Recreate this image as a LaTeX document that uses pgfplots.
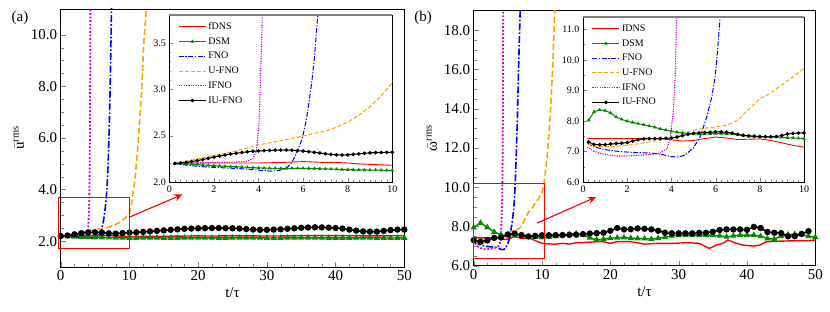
\documentclass[border=0pt]{standalone}
\usepackage{pgfplots}
\pgfplotsset{compat=1.18}
\usepackage{pgfplotstable}
\usepackage{amsmath}
\usepackage{fontspec}
\setmainfont{Liberation Serif}
\usetikzlibrary{arrows.meta}
\definecolor{cgreen}{RGB}{0,140,0}
\definecolor{corange}{RGB}{255,165,0}
\definecolor{cmag}{RGB}{200,0,200}

% ---------------- panel (a) data ----------------
\pgfplotstableread{
t v
0.2 2.200
1 2.205
2 2.205
3 2.205
4 2.205
5 2.210
5.5 2.215
6 2.220
6.5 2.215
7 2.210
7.5 2.210
8 2.205
8.5 2.195
9 2.190
9.5 2.185
10 2.180
12 2.185
15 2.190
18 2.200
20 2.205
22 2.200
25 2.210
28 2.205
30 2.200
33 2.205
36 2.215
38 2.220
40 2.215
43 2.210
46 2.205
48 2.210
50 2.215
}\fdnsA
\pgfplotstableread{
t v
0.25 2.200
0.5 2.198
0.75 2.195
1.0 2.192
1.25 2.188
1.5 2.184
1.75 2.180
2.0 2.176
2.25 2.173
2.5 2.170
2.75 2.167
3.0 2.164
3.25 2.161
3.5 2.158
3.75 2.155
4.0 2.152
4.25 2.150
4.5 2.148
4.75 2.147
5.0 2.146
5.25 2.146
5.5 2.147
5.75 2.147
6.0 2.147
6.25 2.146
6.5 2.145
6.75 2.143
7.0 2.141
7.25 2.139
7.5 2.137
7.75 2.135
8.0 2.133
8.25 2.132
8.5 2.131
8.75 2.130
9.0 2.129
9.25 2.128
9.5 2.127
9.75 2.126
10.0 2.125
}\dsmAin
\pgfplotstableread{
t v
0 2.200
1 2.192
2 2.176
3 2.164
4 2.152
5 2.146
6 2.147
7 2.141
8 2.133
9 2.129
10 2.125
11 2.126
12 2.128
13 2.129
14 2.128
15 2.126
16 2.125
17 2.126
18 2.128
19 2.130
20 2.131
21 2.130
22 2.128
23 2.127
24 2.127
25 2.128
26 2.130
27 2.131
28 2.130
29 2.128
30 2.126
31 2.125
32 2.126
33 2.128
34 2.130
35 2.131
36 2.132
37 2.131
38 2.129
39 2.127
40 2.126
41 2.126
42 2.127
43 2.129
44 2.130
45 2.129
46 2.127
47 2.125
48 2.125
49 2.126
50 2.127
}\dsmAmain
\pgfplotstableread{
t v
0.2 2.200
0.5 2.190
1 2.175
1.5 2.165
2 2.158
2.5 2.152
3 2.146
3.5 2.138
4 2.128
4.5 2.118
4.8 2.120
5.1 2.135
5.3 2.160
5.5 2.210
5.7 2.310
5.9 2.430
6.0 2.510
6.1 2.620
6.2 2.750
6.3 2.920
6.4 3.100
6.5 3.320
6.6 3.620
6.7 3.950
6.8 4.400
6.9 5.000
7.0 5.800
7.1 6.800
7.2 8.000
7.3 9.500
7.4 11.20
7.5 13.00
}\fnoA
\pgfplotstableread{
t v
0.2 2.200
1 2.235
2 2.285
3 2.335
4 2.400
5 2.445
6 2.495
7 2.550
7.5 2.590
8 2.645
8.5 2.720
9 2.810
9.5 2.930
10 3.070
10.3 3.450
10.8 4.350
11.3 5.900
11.8 7.960
12.1 9.770
12.5 11.06
12.7 12.00
}\ufnoA
\pgfplotstableread{
t v
0.2 2.200
1 2.205
2 2.210
3 2.215
3.5 2.225
3.75 2.250
3.9 2.330
4.0 2.550
4.05 2.800
4.1 3.200
4.15 3.600
4.2 4.200
4.25 6.000
4.3 9.000
4.33 12.00
}\ifnoA
\pgfplotstableread{
t v
0.25 2.200
0.5 2.205
0.75 2.212
1.0 2.220
1.25 2.230
1.5 2.242
1.75 2.255
2.0 2.268
2.25 2.280
2.5 2.291
2.75 2.301
3.0 2.310
3.25 2.318
3.5 2.325
3.75 2.331
4.0 2.335
4.25 2.338
4.5 2.341
4.75 2.343
5.0 2.344
5.25 2.344
5.5 2.342
5.75 2.338
6.0 2.333
6.25 2.327
6.5 2.320
6.75 2.312
7.0 2.304
7.25 2.297
7.5 2.292
7.75 2.290
8.0 2.292
8.25 2.297
8.5 2.303
8.75 2.309
9.0 2.314
9.25 2.317
9.5 2.319
9.75 2.320
10.0 2.321
}\iuAin
\pgfplotstableread{
t v
0 2.200
1 2.220
2 2.268
3 2.310
4 2.335
5 2.344
6 2.333
7 2.304
8 2.292
9 2.314
10 2.330
11 2.340
12 2.360
13 2.380
14 2.400
15 2.420
16 2.440
17 2.460
18 2.480
19 2.490
20 2.500
21 2.505
22 2.510
23 2.510
24 2.505
25 2.500
26 2.490
27 2.470
28 2.450
29 2.440
30 2.440
31 2.450
32 2.460
33 2.480
34 2.500
35 2.520
36 2.530
37 2.540
38 2.535
39 2.525
40 2.510
41 2.490
42 2.450
43 2.410
44 2.380
45 2.370
46 2.370
47 2.400
48 2.430
49 2.450
50 2.450
}\iuAmain

% ---------------- panel (b) data ----------------
\pgfplotstableread{
t v
0.2 7.42
1 7.42
2 7.42
3 7.42
3.5 7.41
4 7.38
4.5 7.34
5 7.36
5.5 7.42
6 7.47
6.5 7.44
7 7.39
7.5 7.40
8 7.41
8.5 7.36
9 7.28
9.5 7.20
10 7.14
11 7.11
12 7.10
13 7.14
14 7.10
15 7.17
16 7.18
17 7.20
18 7.22
19 7.22
20 7.14
21 7.22
22 7.23
23 7.22
24 7.17
25 7.10
26 7.12
27 7.14
28 7.14
29 7.14
30 7.15
31 7.17
32 7.16
33 7.14
34 6.97
34.5 6.88
35.5 7.05
36.5 7.14
37.2 7.31
38.2 7.17
39.4 7.05
40.9 7.00
41.9 7.05
42.8 7.22
44.8 7.25
46.8 7.27
48.7 7.27
50 7.31
}\fdnsB
\pgfplotstableread{
t v
0.25 8.02
0.5 8.30
0.75 8.36
1.0 8.34
1.25 8.26
1.5 8.13
1.75 8.05
2.0 7.99
2.25 7.95
2.5 7.91
2.75 7.87
3.0 7.83
3.25 7.79
3.5 7.74
3.75 7.70
4.0 7.66
4.25 7.63
4.5 7.61
4.75 7.59
5.0 7.58
5.25 7.57
5.5 7.57
5.75 7.58
6.0 7.59
6.25 7.59
6.5 7.58
6.75 7.57
7.0 7.55
7.25 7.52
7.5 7.50
7.75 7.49
8.0 7.48
8.25 7.48
8.5 7.47
8.75 7.47
9.0 7.46
9.25 7.45
9.5 7.44
9.75 7.43
10.0 7.42
}\dsmBin
\pgfplotstableread{
t v
0 7.95
1 8.18
2 7.95
3 7.72
4 7.58
5 7.56
6 7.57
7 7.53
8 7.48
9 7.46
10 7.44
11 7.46
12 7.50
13 7.55
14 7.60
15 7.64
16 7.58
17 7.42
18 7.32
19 7.35
20 7.40
21 7.42
22 7.44
23 7.40
24 7.39
25 7.38
26 7.35
27 7.40
28 7.45
29 7.52
30 7.55
31 7.56
32 7.56
33 7.56
34 7.56
35 7.55
36 7.52
37 7.47
38 7.52
39 7.56
40 7.56
41 7.56
42 7.50
43 7.38
44 7.36
45 7.50
46 7.58
47 7.61
48 7.60
49 7.50
50 7.45
}\dsmBmain
\pgfplotstableread{
t v
0.2 7.26
0.5 7.15
1 7.06
1.5 7.01
2 6.98
2.5 6.96
3 6.95
3.5 6.91
4 6.83
4.3 6.82
4.6 6.87
5.0 7.12
5.3 7.48
5.6 8.13
5.83 8.79
5.98 9.44
6.09 10.32
6.21 11.42
6.4 13.6
6.6 16.5
6.8 19.0
6.9 20.5
}\fnoB
\pgfplotstableread{
t v
0.2 7.26
0.5 7.17
1 7.15
1.5 7.17
2 7.20
2.5 7.25
3 7.31
3.5 7.38
4 7.45
4.5 7.58
5 7.70
5.5 7.76
6 7.80
6.5 7.86
7 8.02
7.5 8.38
8 8.72
8.5 8.92
9 9.18
9.5 9.44
10 9.72
10.3 10.2
10.7 11.4
11.2 13.6
11.56 16.1
11.85 18.85
12.0 20.5
}\ufnoB
\pgfplotstableread{
t v
0.2 7.15
0.5 7.00
1 6.90
1.5 6.85
2 6.85
2.5 6.87
3 6.90
3.5 6.95
3.8 7.09
3.94 7.42
4.02 7.90
4.09 8.35
4.17 9.45
4.24 11.42
4.28 14.0
4.32 20.0
}\ifnoB
\pgfplotstableread{
t v
0.25 7.31
0.5 7.23
0.75 7.22
1.0 7.22
1.25 7.24
1.5 7.26
1.75 7.27
2.0 7.29
2.25 7.34
2.5 7.39
2.75 7.41
3.0 7.42
3.25 7.42
3.5 7.42
3.75 7.43
4.0 7.44
4.25 7.47
4.5 7.52
4.75 7.56
5.0 7.59
5.25 7.61
5.5 7.62
5.75 7.63
6.0 7.64
6.25 7.64
6.5 7.63
6.75 7.60
7.0 7.56
7.25 7.53
7.5 7.51
7.75 7.50
8.0 7.49
8.25 7.48
8.5 7.48
8.75 7.49
9.0 7.52
9.25 7.57
9.5 7.59
9.75 7.60
10.0 7.61
}\iuBin
\pgfplotstableread{
t v
0 7.30
1 7.22
2 7.29
3 7.42
4 7.44
5 7.59
6 7.64
7 7.56
8 7.49
9 7.52
10 7.55
11 7.55
12 7.56
13 7.56
14 7.57
15 7.58
16 7.61
17 7.64
18 7.66
19 7.68
20 7.78
21 7.92
22 7.85
23 7.86
24 7.90
25 7.88
26 7.85
27 7.78
28 7.68
29 7.65
30 7.65
31 7.65
32 7.65
33 7.68
34 7.68
35 7.73
36 7.82
37 7.85
38 7.85
39 7.85
40 7.83
41 7.98
42 7.92
43 7.72
44 7.68
45 7.66
46 7.50
47 7.50
48 7.62
49 7.76
}\iuBmain

\pgfplotsset{
  mainax/.style={
    scale only axis, anchor=south west,
    xmin=0, xmax=50, xtick={0,10,...,50}, minor x tick num=4,
    tick align=inside, tick pos=left,
    axis line style={line width=0.8pt},
    major tick length=5pt, minor tick length=3pt,
    tick label style={font=\fontsize{15}{17}\selectfont},
    label style={font=\fontsize{15}{17}\selectfont},
    xticklabel={\pgfmathprintnumber[assume math mode=true]{\tick}},
    yticklabel={\pgfmathprintnumber[fixed,fixed zerofill,precision=1,assume math mode=true]{\tick}},
    xlabel={t/τ},
  },
  inax/.style={
    scale only axis, anchor=south west,
    xmin=0, xmax=10, xtick={0,2,...,10}, minor x tick num=7,
    tick align=inside, tick pos=left,
    axis background/.style={fill=white},
    major tick length=3.5pt, minor tick length=2pt,
    tick label style={font=\fontsize{10}{12}\selectfont},
    xticklabel={\pgfmathprintnumber[assume math mode=true]{\tick}},
    yticklabel={\pgfmathprintnumber[fixed,fixed zerofill,precision=1,assume math mode=true]{\tick}},
    legend style={at={(rel axis cs:0.035,0.975)}, anchor=north west, draw=none, fill=none,
      font=\fontsize{10}{12}\selectfont, row sep=2.6pt, inner sep=1pt},
    legend cell align=left,
    legend image code/.code={\draw[mark repeat=2,mark phase=2,##1] plot coordinates {(0pt,0pt) (13.5pt,0pt) (27pt,0pt)};},
  },
  fdnsM/.style={red, line width=1.4pt},
  dsmM/.style={cgreen, line width=1.4pt, mark=triangle*, mark size=2.3pt, mark options={solid}},
  fnoM/.style={blue, line width=1.6pt, dash pattern=on 7pt off 2pt on 1.6pt off 2pt},
  ufnoM/.style={corange, line width=1.6pt, dash pattern=on 6pt off 3pt},
  ifnoM/.style={cmag, line width=1.8pt, dash pattern=on 1.8pt off 1.8pt},
  iuM/.style={black, line width=1.5pt, mark=*, mark size=2.4pt, mark options={solid}},
  fdnsI/.style={red, line width=0.9pt},
  dsmI/.style={cgreen, line width=1.0pt, mark=triangle*, mark size=1.2pt, mark options={solid}},
  fnoI/.style={blue, line width=1.0pt, dash pattern=on 5pt off 1.6pt on 1.2pt off 1.6pt},
  ufnoI/.style={color=corange, line width=1.0pt, dash pattern=on 4pt off 2pt},
  ifnoI/.style={color=cmag, line width=1.1pt, dash pattern=on 1.2pt off 1.2pt},
  iuI/.style={black, line width=1.0pt, mark=*, mark size=1.3pt, mark options={solid}},
}

\begin{document}
\begin{tikzpicture}
\useasboundingbox (0pt,0pt) rectangle (830pt,312pt);

% ===== panel (a) main =====
\begin{axis}[mainax, at={(60.7pt,45pt)}, width=343.6pt, height=258pt,
  ymin=1, ymax=11, ytick={2,4,...,10}, minor y tick num=3,
  ylabel={$\bar{\text{u}}^{\text{rms}}$}]
\addplot[fdnsM] table[x=t,y=v] {\fdnsA};
\addplot[dsmM] table[x=t,y=v] {\dsmAmain};
\addplot[fnoM] table[x=t,y=v] {\fnoA};
\addplot[ufnoM] table[x=t,y=v] {\ufnoA};
\addplot[ifnoM] table[x=t,y=v] {\ifnoA};
\addplot[iuM] table[x=t,y=v] {\iuAmain};
\coordinate (ra1) at (axis cs:-0.35,1.73);
\coordinate (ra2) at (axis cs:10,3.70);
\coordinate (aa1) at (axis cs:10,2.93);
\coordinate (aa2) at (axis cs:17.7,3.81);
\end{axis}
\draw[red, line width=1.1pt] (ra1) rectangle (ra2);
\draw[red, line width=1.1pt, -{Stealth[length=8pt,width=7pt]}] (aa1) -- (aa2);

% ===== panel (a) inset =====
\begin{axis}[inax, at={(169.3pt,130pt)}, width=223pt, height=167pt,
  ymin=2, ymax=3.8, ytick={2.0,2.5,3.0,3.5}, minor y tick num=4]
\addplot[fdnsI] table[x=t,y=v] {\fdnsA};
\addplot[dsmI] table[x=t,y=v] {\dsmAin};
\addplot[fnoI] table[x=t,y=v] {\fnoA};
\addplot[ufnoI] table[x=t,y=v] {\ufnoA};
\addplot[ifnoI] table[x=t,y=v] {\ifnoA};
\addplot[iuI] table[x=t,y=v] {\iuAin};
\legend{fDNS,DSM,FNO,U-FNO,IFNO,IU-FNO}
\coordinate (ta1) at (rel axis cs:0,1);
\coordinate (ta2) at (rel axis cs:1,1);
\end{axis}
\draw[gray, line width=1.6pt] (ta1) -- (ta2);

% ===== panel (b) main =====
\begin{axis}[mainax, at={(473.7pt,46.3pt)}, width=341.6pt, height=255pt,
  ymin=6, ymax=19, ytick={6,8,...,18}, minor y tick num=3,
  ylabel={$\bar{\text{ω}}^{\text{rms}}$}]
\addplot[fdnsM] table[x=t,y=v] {\fdnsB};
\addplot[dsmM] table[x=t,y=v] {\dsmBmain};
\addplot[fnoM] table[x=t,y=v] {\fnoB};
\addplot[ufnoM] table[x=t,y=v] {\ufnoB};
\addplot[ifnoM] table[x=t,y=v] {\ifnoB};
\addplot[iuM] table[x=t,y=v] {\iuBmain};
\coordinate (rb1) at (axis cs:0,6.35);
\coordinate (rb2) at (axis cs:10.3,10.2);
\coordinate (ab1) at (axis cs:9.27,8.17);
\coordinate (ab2) at (axis cs:17.9,9.5);
\end{axis}
\draw[red, line width=1.1pt] (rb1) rectangle (rb2);
\draw[red, line width=1.1pt, -{Stealth[length=8pt,width=7pt]}] (ab1) -- (ab2);

% ===== panel (b) inset =====
\begin{axis}[inax, at={(583pt,130pt)}, width=221pt, height=165pt,
  ymin=6, ymax=11.4, ytick={6,7,...,11}, minor y tick num=1]
\addplot[fdnsI] table[x=t,y=v] {\fdnsB};
\addplot[dsmI] table[x=t,y=v] {\dsmBin};
\addplot[fnoI] table[x=t,y=v] {\fnoB};
\addplot[ufnoI] table[x=t,y=v] {\ufnoB};
\addplot[ifnoI] table[x=t,y=v] {\ifnoB};
\addplot[iuI] table[x=t,y=v] {\iuBin};
\legend{fDNS,DSM,FNO,U-FNO,IFNO,IU-FNO}
\coordinate (tb1) at (rel axis cs:0,1);
\coordinate (tb2) at (rel axis cs:1,1);
\end{axis}
\draw[gray, line width=1.6pt] (tb1) -- (tb2);

\node[font=\fontsize{15}{17}\selectfont] at (20pt,294.5pt) {(a)};
\node[font=\fontsize{15}{17}\selectfont] at (423pt,294.5pt) {(b)};
\end{tikzpicture}
\end{document}
